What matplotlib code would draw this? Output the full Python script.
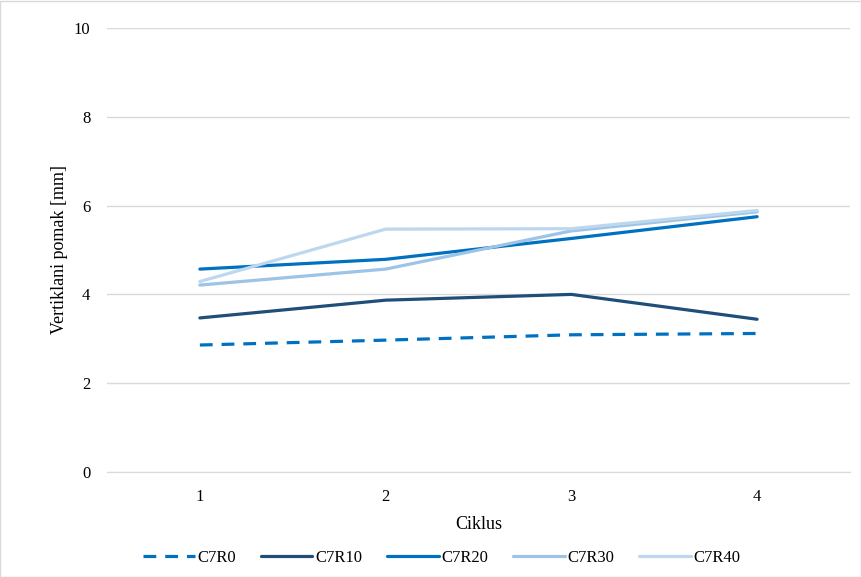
import matplotlib.pyplot as plt
from matplotlib.patches import Rectangle

plt.rcParams['font.family'] = ['Liberation Serif', 'DejaVu Serif']

ciklus = [1, 2, 3, 4]
c7r0 = [2.86, 2.97, 3.09, 3.12]
c7r10 = [3.47, 3.87, 4.00, 3.44]
c7r20 = [4.57, 4.79, 5.26, 5.75]
c7r30 = [4.21, 4.57, 5.43, 5.86]
c7r40 = [4.29, 5.47, 5.48, 5.89]

series = [
    ('C7R0', c7r0, '#0070C0', (0, (4, 2.8))),
    ('C7R10', c7r10, '#1F4E79', '-'),
    ('C7R20', c7r20, '#0070C0', '-'),
    ('C7R30', c7r30, '#9DC3E6', '-'),
    ('C7R40', c7r40, '#BDD7EE', '-'),
]

fig = plt.figure(figsize=(8.62, 5.77), dpi=100)
ax = fig.add_axes([107/862, 1 - 472/577, (850-107)/862, (472-28)/577])

for name, vals, col, ls in series:
    ax.plot(ciklus, vals, color=col, lw=2.3, linestyle=ls, label=name,
            solid_capstyle='round', dash_capstyle='butt')

ax.set_xlim(0.5, 4.5)
ax.set_ylim(0, 10)
ax.set_xticks(ciklus)
ax.set_yticks(range(0, 11, 2))
ax.grid(axis='y', color='#D9D9D9', lw=1)
ax.set_axisbelow(True)
for s in ['top', 'right', 'left']:
    ax.spines[s].set_visible(False)
ax.spines['bottom'].set_color('#D9D9D9')
ax.tick_params(length=0, labelsize=12, pad=12, colors='#000000')
ax.set_xlabel('Ciklus', fontsize=13, labelpad=8)
ax.set_ylabel('Vertiklani pomak [mm]', fontsize=13, labelpad=4)

# legend sits a bit left of centre in the reference
ax.legend(loc='lower left', bbox_to_anchor=((128-107)/743, -0.245), ncol=5, frameon=False,
          fontsize=12, handlelength=3.1, columnspacing=1.5, handletextpad=0.15)

fig.patches.append(Rectangle((0.5/862, 0.5/577), 1 - 1/862, 1 - 1/577, transform=fig.transFigure,
                             fill=False, edgecolor='#D9D9D9', lw=1))

fig.savefig('out.png', dpi=100)
